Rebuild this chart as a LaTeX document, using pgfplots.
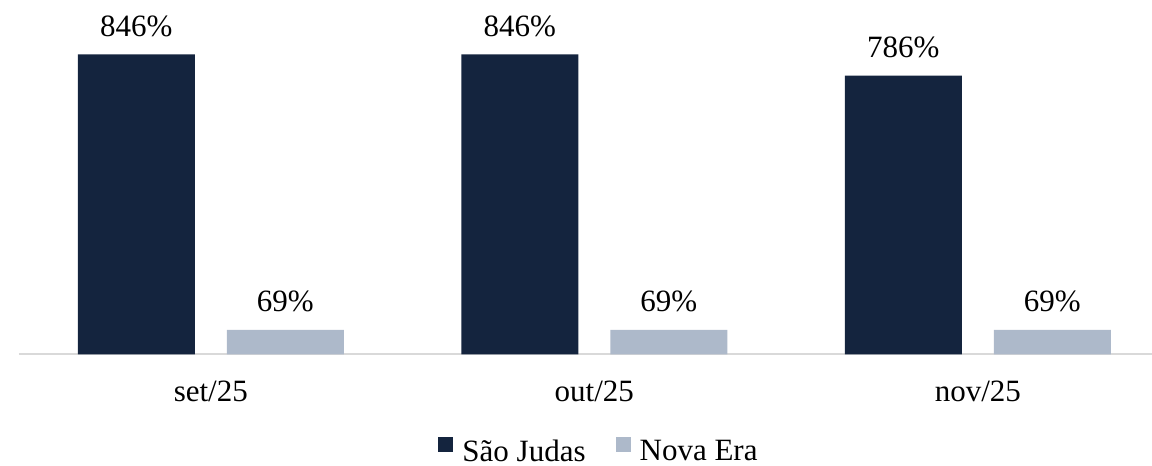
\documentclass[border=0pt]{standalone}
\usepackage{pgfplots}
\pgfplotsset{compat=1.18}
\usepackage{fontspec}
\setmainfont{Liberation Serif}
\definecolor{darkbar}{HTML}{14243E}
\definecolor{lightbar}{HTML}{ADB9CA}
\definecolor{axisgray}{HTML}{D9D9D9}
\begin{document}
\begin{tikzpicture}
\useasboundingbox (0,0) rectangle (576pt,233pt);
\begin{axis}[
  at={(9.5pt,55.85pt)}, anchor=south west,
  scale only axis,
  width=566.5pt, height=177.3pt,
  xmin=-0.5, xmax=2.454,
  ymin=0, ymax=1000,
  axis x line*=bottom,
  axis y line=none,
  axis line style={draw=axisgray, line width=0.8pt, -},
  xtick={0,1,2},
  xticklabels={set/25,out/25,nov/25},
  major tick length=0pt,
  xticklabel style={anchor=base, yshift=-23.8pt},
  ytick=\empty,
  font=\fontsize{15.5}{18}\selectfont,
  /pgf/number format/assume math mode=true,
  ybar, bar width=58.5pt,
  nodes near coords={\pgfmathprintnumber{\pgfplotspointmeta}\%},
  every node near coord/.append style={anchor=base, yshift=9.15pt, font=\fontsize{15.5}{18}\selectfont},
  legend columns=2,
  legend style={draw=none, fill=none, at={(0.5128,0)}, anchor=center, yshift=-49pt,
    font=\fontsize{15.5}{18}\selectfont,
    /tikz/every odd column/.append style={column sep=2.5pt},
    /tikz/every even column/.append style={column sep=13pt}},
  legend image code/.code={\fill[#1,draw=none] (0pt,0pt) rectangle (7.5pt,7.5pt);},
  clip=false,
]
\addplot[fill=darkbar, draw=none, bar shift=-37.25pt] coordinates {(0,846) (1,846) (2,786)};
\addplot[fill=lightbar, draw=none, bar shift=37.25pt] coordinates {(0,69) (1,69) (2,69)};
\legend{São Judas, Nova Era}
\end{axis}
\end{tikzpicture}
\end{document}
